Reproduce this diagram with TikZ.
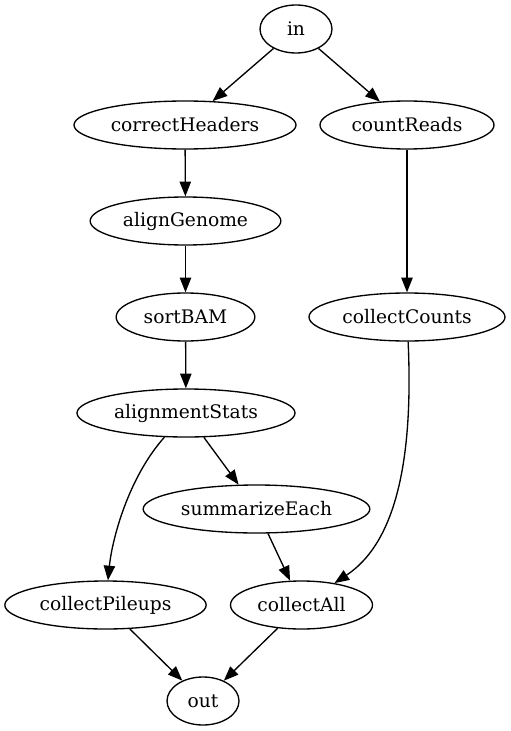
\documentclass[tikz,border=0pt]{standalone}
\usepackage{fontspec}
\newfontfamily\dagfont{DejaVu Serif}
\usetikzlibrary{arrows.meta,shapes.geometric}
\tikzset{
  task/.style={draw,ellipse,line width=1pt,inner sep=0pt,minimum height=36pt,font=\dagfont\fontsize{14pt}{16pt}\selectfont},
  edge/.style={-{Triangle[length=11pt,width=8.5pt]},line width=1pt}
}

\begin{document}
\begin{tikzpicture}[x=0.75pt,y=-0.75pt]
  \useasboundingbox (0,0) rectangle (510,731);

  % left branch
  \node[task,minimum width=54pt] (in) at (296,29) {in};
  \node[task,minimum width=166.5pt] (correctHeaders) at (185,125) {correctHeaders};
  \node[task,minimum width=143pt] (alignGenome) at (185.5,221) {alignGenome};
  \node[task,minimum width=104pt] (sortBAM) at (185.5,317) {sortBAM};
  \node[task,minimum width=163.5pt] (alignmentStats) at (186,413) {alignmentStats};
  \node[task,minimum width=170pt] (summarizeEach) at (256.5,509) {summarizeEach};
  \node[task,minimum width=151pt] (collectPileups) at (105.5,605) {collectPileups};

  % right branch
  \node[task,minimum width=130.5pt] (countReads) at (407,125) {countReads};
  \node[task,minimum width=147pt] (collectCounts) at (407,317) {collectCounts};
  \node[task,minimum width=106.5pt] (collectAll) at (301.5,605) {collectAll};
  \node[task,minimum width=54pt] (out) at (203,701) {out};

  \draw[edge] (in) -- (correctHeaders);
  \draw[edge] (in) -- (countReads);
  \draw[edge] (correctHeaders) -- (alignGenome);
  \draw[edge] (alignGenome) -- (sortBAM);
  \draw[edge] (sortBAM) -- (alignmentStats);
  \draw[edge] (alignmentStats) -- (summarizeEach);
  \draw[edge] (alignmentStats) .. controls (128,478) and (112,540) .. (collectPileups);
  \draw[edge] (summarizeEach) -- (collectAll);
  \draw[edge] (countReads) -- (collectCounts);
  \draw[edge] (collectCounts) .. controls (414,470) and (392,545) .. (collectAll);
  \draw[edge] (collectPileups) -- (out);
  \draw[edge] (collectAll) -- (out);
\end{tikzpicture}
\end{document}
